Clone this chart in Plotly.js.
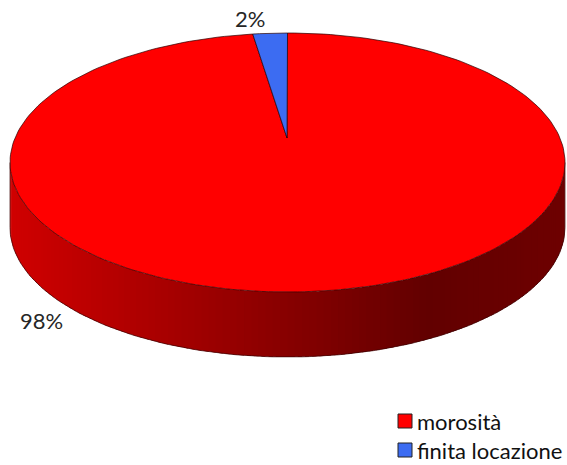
<!DOCTYPE html>
<html>
<head>
<meta charset="utf-8">
<script src="https://cdn.plot.ly/plotly-3.0.1.min.js"></script>
<style>html,body{margin:0;padding:0;background:#fff;}#chart{width:567px;height:465px;}</style>
</head>
<body>
<div id="chart"></div>
<script>
// ---- data ----
const categories = ["morosità", "finita locazione"];
const values = [98, 2];
const sliceColors = ["#FF0000", "#3C6CF2"];

// ---- geometry (layout constants) ----
const CX = 287.5, CY = 162.5, RX = 277.5, RY = 129.5, DEPTH = 65;
const TIPX = 287, TIPY = 138;
const W = 567, H = 465;

const total = values.reduce((a, b) => a + b, 0);
const traces = [];

function lerp(a, b, t) { return a + (b - a) * t; }
function sideColor(x) {
  const t = Math.min(1, Math.max(0, (x - 10) / 555));
  let r;
  if (t < 0.75) r = lerp(208, 98, t / 0.75);
  else r = lerp(98, 110, (t - 0.75) / 0.25);
  return "rgb(" + Math.round(r) + ",0,0)";
}

// side (front half), drawn as overlapping strips for a smooth gradient
const N = 120;
for (let i = 0; i < N; i++) {
  const t0 = Math.PI * i / N;
  const t1 = Math.min(Math.PI, Math.PI * (i + 1.6) / N);
  const x0 = CX + RX * Math.cos(t0), y0 = CY + RY * Math.sin(t0);
  const x1 = CX + RX * Math.cos(t1), y1 = CY + RY * Math.sin(t1);
  const c = sideColor((x0 + x1) / 2);
  traces.push({
    type: "scatter", mode: "lines", fill: "toself", fillcolor: c,
    x: [x0, x1, x1, x0, x0], y: [y0, y1, y1 + DEPTH, y0 + DEPTH, y0],
    line: { width: 0 }, hoverinfo: "skip", showlegend: false
  });
}
// side outline
(function () {
  const xs = [], ys = [];
  for (let i = 0; i <= 120; i++) {
    const t = Math.PI * i / 120;
    xs.push(CX + RX * Math.cos(t)); ys.push(CY + RY * Math.sin(t) + DEPTH);
  }
  traces.push({ type: "scatter", mode: "lines", x: xs, y: ys,
    line: { color: "#3a0000", width: 0.7 }, hoverinfo: "skip", showlegend: false });
  traces.push({ type: "scatter", mode: "lines", x: [CX - RX, CX - RX + 0.01], y: [CY, CY + DEPTH],
    line: { color: "#3a0000", width: 0.7 }, hoverinfo: "skip", showlegend: false });
  traces.push({ type: "scatter", mode: "lines", x: [CX + RX, CX + RX - 0.01], y: [CY, CY + DEPTH],
    line: { color: "#3a0000", width: 0.7 }, hoverinfo: "skip", showlegend: false });
})();

// top face slices: start at 12 o'clock, clockwise
let acc = 0;
values.forEach((v, k) => {
  const a0 = acc / total * 2 * Math.PI;
  acc += v;
  const a1 = acc / total * 2 * Math.PI;
  const steps = Math.max(4, Math.ceil((a1 - a0) / (2 * Math.PI) * 240));
  const xs = [TIPX], ys = [TIPY];
  for (let i = 0; i <= steps; i++) {
    const a = a0 + (a1 - a0) * i / steps;
    xs.push(CX + RX * Math.sin(a)); ys.push(CY - RY * Math.cos(a));
  }
  xs.push(TIPX); ys.push(TIPY);
  traces.push({
    type: "scatter", mode: "lines", fill: "toself", fillcolor: sliceColors[k],
    x: xs, y: ys, name: categories[k],
    line: { color: "#2a0000", width: 0.7 }, hoverinfo: "skip", showlegend: false
  });
});

// labels
const labelPos = [[41, 320], [250, 18]];
const annotations = values.map((v, k) => ({
  x: labelPos[k][0], y: labelPos[k][1], xref: "x", yref: "y",
  text: Math.round(v / total * 100) + "%", showarrow: false,
  font: { family: "Lato, 'Open Sans', sans-serif", size: 22, color: "#262626" }
}));

// legend (manual)
const legX = 398, legY = [421, 450];
const shapes = [];
categories.forEach((c, k) => {
  shapes.push({ type: "rect", xref: "x", yref: "y",
    x0: legX, x1: legX + 14, y0: legY[k] - 7, y1: legY[k] + 7,
    fillcolor: sliceColors[k], line: { color: "#222", width: 1 } });
  annotations.push({ x: legX + 17, y: legY[k], xref: "x", yref: "y",
    xanchor: "left", yanchor: "middle", text: c, showarrow: false,
    font: { family: "Lato, 'Open Sans', sans-serif", size: 22, color: "#111" } });
});

const layout = {
  width: W, height: H,
  margin: { l: 0, r: 0, t: 0, b: 0 },
  paper_bgcolor: "#fff", plot_bgcolor: "#fff",
  xaxis: { range: [0, W], visible: false, fixedrange: true },
  yaxis: { range: [H, 0], visible: false, fixedrange: true },
  showlegend: false,
  annotations: annotations,
  shapes: shapes
};
Plotly.newPlot("chart", traces, layout, { staticPlot: true });
</script>
</body>
</html>
